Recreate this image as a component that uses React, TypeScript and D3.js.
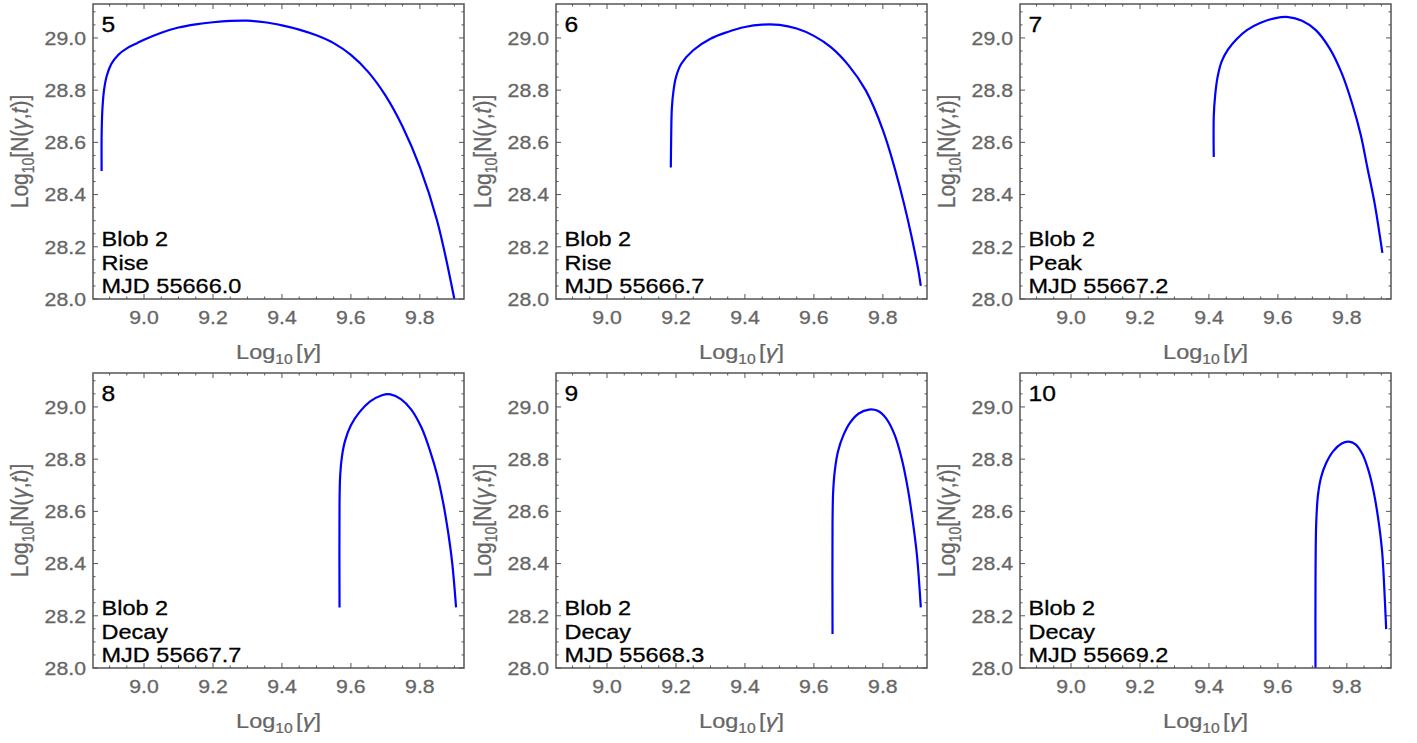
import React from "react";
import * as d3 from "d3";

// ---- Data ----
const panelNumbers = ["5", "6", "7", "8", "9", "10"];
const panelPhases = ["Rise", "Rise", "Peak", "Decay", "Decay", "Decay"];
const panelMJD = ["MJD 55666.0", "MJD 55666.7", "MJD 55667.2", "MJD 55667.7", "MJD 55668.3", "MJD 55669.2"];
const blobName = "Blob 2";

const xTicks = [9.0, 9.2, 9.4, 9.6, 9.8];
const yTicks = [28.0, 28.2, 28.4, 28.6, 28.8, 29.0];
const xDomain = [8.852, 9.928];
const yDomain = [28.0, 29.13];

const gamma5 = [8.877, 8.877, 8.879, 8.884, 8.892, 8.905, 8.925, 8.95, 8.98, 9.0, 9.05, 9.1, 9.15, 9.2, 9.25, 9.3, 9.35, 9.4, 9.45, 9.5, 9.55, 9.6, 9.65, 9.7, 9.75, 9.8, 9.85, 9.9];
const logN5 = [28.49, 28.62, 28.72, 28.8, 28.855, 28.9, 28.935, 28.96, 28.98, 28.993, 29.02, 29.04, 29.052, 29.06, 29.065, 29.066, 29.06, 29.048, 29.032, 29.01, 28.98, 28.935, 28.87, 28.78, 28.66, 28.505, 28.3, 28.0];

const gamma6 = [9.185, 9.186, 9.188, 9.193, 9.2, 9.215, 9.25, 9.3, 9.35, 9.4, 9.45, 9.5, 9.55, 9.6, 9.65, 9.7, 9.75, 9.8, 9.85, 9.9, 9.91];
const logN6 = [28.504, 28.615, 28.73, 28.8, 28.85, 28.9, 28.953, 28.997, 29.023, 29.042, 29.051, 29.05, 29.036, 29.008, 28.964, 28.896, 28.8, 28.647, 28.424, 28.131, 28.05];

const gamma7 = [9.414, 9.414, 9.418, 9.425, 9.437, 9.455, 9.48, 9.51, 9.55, 9.59, 9.63, 9.67, 9.71, 9.75, 9.785, 9.815, 9.84, 9.86, 9.88, 9.903];
const logN7 = [28.544, 28.7, 28.78, 28.85, 28.91, 28.955, 28.995, 29.03, 29.058, 29.075, 29.08, 29.066, 29.03, 28.96, 28.865, 28.75, 28.63, 28.5, 28.37, 28.177];

const gamma8 = [9.567, 9.567, 9.569, 9.574, 9.583, 9.6, 9.625, 9.655, 9.69, 9.715, 9.745, 9.775, 9.805, 9.83, 9.85, 9.868, 9.882, 9.894, 9.905];
const logN8 = [28.232, 28.63, 28.74, 28.81, 28.87, 28.93, 28.98, 29.02, 29.045, 29.048, 29.03, 28.99, 28.92, 28.83, 28.74, 28.63, 28.52, 28.4, 28.232];

const gamma9 = [9.654, 9.654, 9.656, 9.661, 9.67, 9.685, 9.705, 9.73, 9.76, 9.785, 9.81, 9.835, 9.855, 9.872, 9.887, 9.899, 9.91];
const logN9 = [28.13, 28.554, 28.68, 28.76, 28.83, 28.89, 28.94, 28.975, 28.99, 28.985, 28.955, 28.89, 28.8, 28.69, 28.56, 28.43, 28.232];

const gamma10 = [9.709, 9.709, 9.711, 9.716, 9.725, 9.74, 9.76, 9.785, 9.805, 9.825, 9.845, 9.862, 9.877, 9.89, 9.902, 9.908, 9.914];
const logN10 = [27.98, 28.314, 28.55, 28.66, 28.73, 28.785, 28.83, 28.86, 28.867, 28.857, 28.82, 28.76, 28.68, 28.58, 28.45, 28.32, 28.149];

const gammaSeries = [gamma5, gamma6, gamma7, gamma8, gamma9, gamma10];
const logNSeries = [logN5, logN6, logN7, logN8, logN9, logN10];

// ---- Layout ----
const W = 1417;
const H = 743;
const colLefts = [93, 556, 1020];
const rowTops = [4, 373];
const PW = 371;
const PH = 295;

const FONT = "'Liberation Sans', Arial, sans-serif";
const SX = 1.12;
const GREY = "#666";
const FRAME = "#555";

function Panel({ idx }: { idx: number }) {
  const left = colLefts[idx % 3];
  const top = rowTops[Math.floor(idx / 3)];
  const x = d3.scaleLinear().domain(xDomain).range([0, PW]);
  const y = d3.scaleLinear().domain(yDomain).range([PH, 0]);
  const pts: [number, number][] = gammaSeries[idx].map((g, i) => [g, logNSeries[idx][i]]);
  const line = d3
    .line<[number, number]>()
    .x((d) => x(d[0]))
    .y((d) => y(d[1]))
    .curve(d3.curveCatmullRom.alpha(0.5));

  const xMinor = d3.range(8.85, 9.93, 0.05).filter((v) => v >= xDomain[0] - 1e-9 && v <= xDomain[1]);
  const yMinor = d3.range(28.0, 29.13, 0.05);
  const isMajor = (v: number) => Math.abs(v * 5 - Math.round(v * 5)) < 1e-6;
  const clipId = `clip${idx}`;

  return (
    <g transform={`translate(${left},${top})`}>
      <defs>
        <clipPath id={clipId}>
          <rect x={0} y={0} width={PW} height={PH} />
        </clipPath>
      </defs>
      {xMinor.map((v, i) => {
        const len = isMajor(v) ? 5 : 2.5;
        const px = x(v);
        return (
          <g key={`xt${i}`} stroke={FRAME} strokeWidth={1}>
            <line x1={px} x2={px} y1={PH} y2={PH - len} />
            <line x1={px} x2={px} y1={0} y2={len} />
          </g>
        );
      })}
      {yMinor.map((v, i) => {
        const len = isMajor(v) ? 5 : 2.5;
        const py = y(v);
        return (
          <g key={`yt${i}`} stroke={FRAME} strokeWidth={1}>
            <line x1={0} x2={len} y1={py} y2={py} />
            <line x1={PW} x2={PW - len} y1={py} y2={py} />
          </g>
        );
      })}
      <path d={line(pts) || ""} fill="none" stroke="#0000ff" strokeWidth={2.2} clipPath={`url(#${clipId})`} />
      <rect x={0} y={0} width={PW} height={PH} fill="none" stroke={FRAME} strokeWidth={1.5} />
      {xTicks.map((v) => (
        <g key={`xl${v}`} transform={`translate(${x(v)},${PH + 24.5}) scale(${SX},1)`}>
          <text textAnchor="middle" fontFamily={FONT} fontSize={19} fill={GREY} stroke={GREY} strokeWidth={0.3}>
            {v.toFixed(1)}
          </text>
        </g>
      ))}
      {yTicks.map((v) => (
        <g key={`yl${v}`} transform={`translate(-7,${y(v) + 6.8}) scale(${SX},1)`}>
          <text textAnchor="end" fontFamily={FONT} fontSize={19} fill={GREY} stroke={GREY} strokeWidth={0.3}>
            {v.toFixed(1)}
          </text>
        </g>
      ))}
      <g transform={`translate(${PW / 2},${PH + 60}) scale(${SX},1)`}>
        <text textAnchor="middle" fontFamily={FONT} fontSize={21} fill={GREY} stroke={GREY} strokeWidth={0.25}>
          Log
          <tspan fontSize={14} dy={5}>10</tspan>
          <tspan dy={-5} dx={3}>[</tspan>
          <tspan fontStyle="italic">γ</tspan>
          <tspan>]</tspan>
        </text>
      </g>
      <g transform={`translate(-65,${PH / 2}) scale(${SX},1) rotate(-90)`}>
        <text textAnchor="middle" fontFamily={FONT} fontSize={21} fill={GREY} stroke={GREY} strokeWidth={0.25}>
          Log
          <tspan fontSize={14} dy={5}>10</tspan>
          <tspan dy={-5}>[N(</tspan>
          <tspan fontStyle="italic">γ</tspan>
          <tspan>,</tspan>
          <tspan fontStyle="italic">t</tspan>
          <tspan>)]</tspan>
        </text>
      </g>
      <g transform={`translate(8.5,28) scale(${SX},1)`}>
        <text fontFamily={FONT} fontSize={22} fill="#000" stroke="#000" strokeWidth={0.3}>
          {panelNumbers[idx]}
        </text>
      </g>
      {[blobName, panelPhases[idx], panelMJD[idx]].map((t, i) => (
        <g key={`an${i}`} transform={`translate(8.5,${PH - 53 + i * 23.5}) scale(${SX},1)`}>
          <text fontFamily={FONT} fontSize={21} fill="#000" stroke="#000" strokeWidth={0.3}>
            {t}
          </text>
        </g>
      ))}
    </g>
  );
}

export default function App() {
  return (
    <svg
      width={W}
      height={H}
      viewBox={`0 0 ${W} ${H}`}
      style={{ position: "absolute", left: 0, top: 0, background: "#fff" }}
    >
      <rect x={0} y={0} width={W} height={H} fill="#fff" />
      {[0, 1, 2, 3, 4, 5].map((i) => (
        <Panel key={i} idx={i} />
      ))}
    </svg>
  );
}
